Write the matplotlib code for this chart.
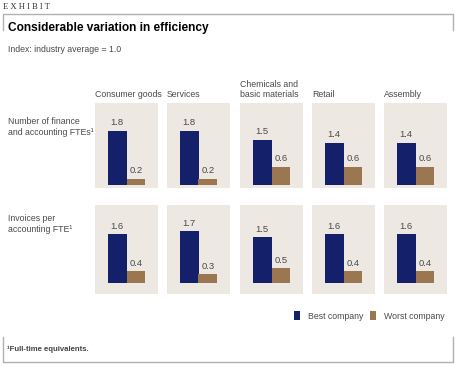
import matplotlib
matplotlib.use("Agg")
import matplotlib.pyplot as plt
from matplotlib.lines import Line2D

# data (index: industry average = 1.0)
sectors = ["Consumer goods", "Services", "Chemicals and\nbasic materials", "Retail", "Assembly"]
metrics = ["Number of finance\nand accounting FTEs\u00b9", "Invoices per\naccounting FTE\u00b9"]
best_fte = [1.8, 1.8, 1.5, 1.4, 1.4]
worst_fte = [0.2, 0.2, 0.6, 0.6, 0.6]
best_inv = [1.6, 1.7, 1.5, 1.6, 1.6]
worst_inv = [0.4, 0.3, 0.5, 0.4, 0.4]
series_names = ["Best company", "Worst company"]

navy = "#15206a"
brown = "#9a7750"
panel_bg = "#ede8e2"
grey_txt = "#4a4a4a"
frame_col = "#b0b0b0"

plt.rcParams['font.family'] = ['Liberation Sans', 'DejaVu Sans']
fs = 6.3

W, H = 455, 366
fig = plt.figure(figsize=(W / 100, H / 100), dpi=100)
fig.patch.set_facecolor("white")

def fx(px):
    return px / W

def fy(py):
    return 1 - py / H

# bracket-ish frame
for pts in ([(3, 30), (3, 14), (453, 14), (453, 30)],
            [(3, 337), (3, 362), (453, 362), (453, 337)]):
    fig.add_artist(Line2D([fx(p[0]) for p in pts], [fy(p[1]) for p in pts],
                          color=frame_col, lw=1.0))

fig.text(fx(3), fy(7), "E X H I B I T", family=["Liberation Serif", "DejaVu Serif"],
         fontsize=6.2, color="#333333", va="center", ha="left")
fig.text(fx(8), fy(28), "Considerable variation in efficiency",
         fontweight="bold", fontsize=8.6, color="black", va="center", ha="left")
fig.text(fx(8), fy(50), "Index: industry average = 1.0", fontsize=fs,
         color=grey_txt, va="center", ha="left")

lefts = [95, 167, 240, 312, 384]
pw = 63
rows = [(103, 188, (-0.1, 2.71), best_fte, worst_fte),
        (205, 294, (-0.35, 2.56), best_inv, worst_inv)]
label_y = [127, 224]

handles = None
for r, (top, bot, ylim, best, worst) in enumerate(rows):
    fig.text(fx(8), fy(label_y[r]), metrics[r], fontsize=fs, color=grey_txt,
             va="center", ha="left", linespacing=1.15)
    for i, x0 in enumerate(lefts):
        ax = fig.add_axes([fx(x0), fy(bot), fx(pw), (bot - top) / H])
        ax.set_facecolor(panel_bg)
        b1 = ax.bar(0, best[i], width=1.0, color=navy)
        b2 = ax.bar(1, worst[i], width=1.0, color=brown)
        for xb, v in ((0, best[i]), (1, worst[i])):
            ax.annotate(f"{v:.1f}", (xb, v), xytext=(0, 2.5), textcoords="offset points",
                        ha="center", va="bottom", fontsize=6.8, color=grey_txt)
        ax.set_xlim(-1.2, 2.2)
        ax.set_ylim(*ylim)
        ax.set_xticks([])
        ax.set_yticks([])
        for s in ax.spines.values():
            s.set_visible(False)
        if r == 0:
            ax.text(0, 1.045, sectors[i], transform=ax.transAxes, fontsize=fs,
                    color=grey_txt, ha="left", va="bottom", linespacing=1.15)
        handles = (b1, b2)

fig.legend(handles, series_names, loc="center right",
           bbox_to_anchor=(fx(449), fy(316)), frameon=False, ncol=2,
           fontsize=fs, handlelength=0.7, handleheight=1.2, handletextpad=0.9,
           columnspacing=0.8, borderpad=0, labelcolor=grey_txt)

fig.text(fx(7), fy(349), "\u00b9Full-time equivalents.", fontsize=5.6,
         fontweight="bold", color="#444444", va="center", ha="left")

fig.savefig("out.png", dpi=100)
